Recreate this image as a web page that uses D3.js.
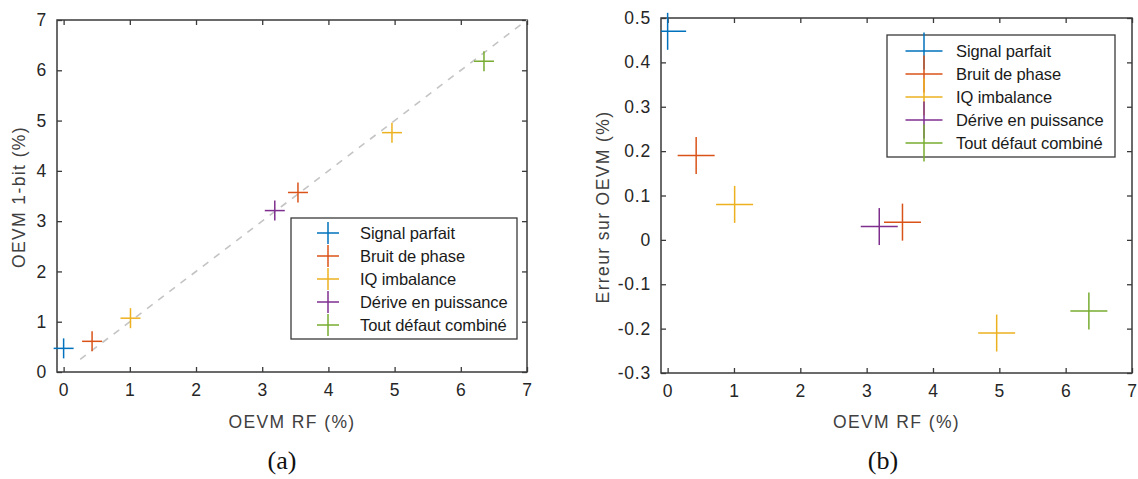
<!DOCTYPE html>
<html><head><meta charset="utf-8">
<script src="https://cdn.jsdelivr.net/npm/d3@7"></script>
<style>
html,body{margin:0;padding:0;background:#fff;}
svg{display:block;}
</style></head>
<body>
<svg id="c" width="1138" height="479"></svg>
<script>
// ---- data ----
const seriesNames = ["Signal parfait", "Bruit de phase", "IQ imbalance", "Dérive en puissance", "Tout défaut combiné"];
const oevmRF   = [[0], [0.43, 3.54], [1.01, 4.96], [3.19], [6.35]];
const oevm1bit = [[0.47], [0.61, 3.57], [1.07, 4.76], [3.21], [6.18]];
const erreur   = [[0.47], [0.19, 0.04], [0.08, -0.21], [0.03], [-0.16]];
const xTicks = [0, 1, 2, 3, 4, 5, 6, 7];
const yTicksA = [0, 1, 2, 3, 4, 5, 6, 7];
const yTicksB = [-0.3, -0.2, -0.1, 0, 0.1, 0.2, 0.3, 0.4, 0.5];
const diagLine = [[0.25, 0.25], [7, 7]];

const colors = ["#0072BD", "#D95319", "#EDB120", "#7E2F8E", "#77AC30"];
const axisColor = "#3a3a3a";
const textColor = "#262626";
const font = "'Liberation Sans', Arial, sans-serif";

const svg = d3.select("#c");

function panel(opts) {
  const g = svg.append("g");
  const x = d3.scaleLinear().domain(opts.xDomain).range([opts.left, opts.right]);
  const y = d3.scaleLinear().domain(opts.yDomain).range([opts.bottom, opts.top]);
  const tl = 5;

  const clipId = "clip" + opts.id;
  svg.append("clipPath").attr("id", clipId).append("rect")
    .attr("x", opts.left).attr("y", 0).attr("width", opts.right - opts.left).attr("height", 479);

  const fmt = opts.fmt;
  const ax = g.append("g").attr("transform", `translate(0,${opts.bottom})`)
    .call(d3.axisBottom(x).tickValues(xTicks).tickSizeInner(-tl).tickSizeOuter(0).tickPadding(12).tickFormat(d3.format("d")));
  const axT = g.append("g").attr("transform", `translate(0,${opts.top})`)
    .call(d3.axisTop(x).tickValues(xTicks).tickSizeInner(-tl).tickSizeOuter(0).tickFormat(""));
  const ay = g.append("g").attr("transform", `translate(${opts.left},0)`)
    .call(d3.axisLeft(y).tickValues(opts.yTicks).tickSizeInner(-tl).tickSizeOuter(0).tickPadding(10).tickFormat(fmt));
  const ayR = g.append("g").attr("transform", `translate(${opts.right},0)`)
    .call(d3.axisRight(y).tickValues(opts.yTicks).tickSizeInner(-tl).tickSizeOuter(0).tickFormat(""));
  [ax, axT, ay, ayR].forEach(a => {
    a.select(".domain").remove();
    a.selectAll(".tick line").attr("stroke", axisColor).attr("stroke-width", 1.3);
    a.selectAll(".tick text").attr("fill", textColor).style("font-family", font)
      .style("font-size", "17.5px").style("letter-spacing", "0.8px");
  });
  ax.selectAll(".tick text").attr("dy", "0.71em");
  g.append("rect").attr("x", opts.left).attr("y", opts.top)
    .attr("width", opts.right - opts.left).attr("height", opts.bottom - opts.top)
    .attr("fill", "none").attr("stroke", axisColor).attr("stroke-width", 1.5);

  if (opts.diag) {
    g.append("path")
      .attr("d", d3.line().x(d => x(d[0])).y(d => y(d[1]))(opts.diag))
      .attr("stroke", "#c4c4c4").attr("stroke-width", 1.6).attr("fill", "none")
      .attr("stroke-dasharray", "7,7");
  }

  const mg = g.append("g").attr("clip-path", opts.clip ? `url(#${clipId})` : null);
  const h = opts.msize / 2;
  seriesNames.forEach((name, i) => {
    const pts = opts.xs[i].map((v, j) => [v, opts.ys[i][j]]);
    pts.forEach(p => {
      const cx = x(p[0]), cy = y(p[1]);
      mg.append("line").attr("x1", cx - h).attr("x2", cx + h).attr("y1", cy).attr("y2", cy)
        .attr("stroke", colors[i]).attr("stroke-width", 1.5);
      mg.append("line").attr("x1", cx).attr("x2", cx).attr("y1", cy - h).attr("y2", cy + h)
        .attr("stroke", colors[i]).attr("stroke-width", 1.5);
    });
  });

  g.append("text").attr("x", (opts.left + opts.right) / 2 + opts.xlabDx).attr("y", 428)
    .attr("text-anchor", "middle").attr("fill", "#404040")
    .style("font-family", font).style("font-size", "17.5px").style("letter-spacing", "1.4px")
    .text("OEVM RF (%)");
  g.append("text").attr("transform", `translate(${opts.ylabX},${opts.ylabY}) rotate(-90)`)
    .attr("text-anchor", "middle").attr("fill", "#404040")
    .style("font-family", font).style("font-size", "17.5px").style("letter-spacing", "1.4px")
    .text(opts.ylabel);

  const L = opts.legend;
  g.append("rect").attr("x", L.x).attr("y", L.y).attr("width", L.w).attr("height", L.h)
    .attr("fill", "#fff").attr("stroke", axisColor).attr("stroke-width", 1.3);
  const lh = L.msize / 2;
  seriesNames.forEach((name, i) => {
    const cy = L.y0 + i * L.dy;
    g.append("line").attr("x1", L.cx - lh).attr("x2", L.cx + lh).attr("y1", cy).attr("y2", cy)
      .attr("stroke", colors[i]).attr("stroke-width", 1.5);
    g.append("line").attr("x1", L.cx).attr("x2", L.cx).attr("y1", cy - lh).attr("y2", cy + lh)
      .attr("stroke", colors[i]).attr("stroke-width", 1.5);
    g.append("text").attr("x", L.tx).attr("y", cy + 6).attr("fill", "#1a1a1a")
      .style("font-family", font).style("font-size", "16.5px").style("letter-spacing", "-0.1px")
      .text(name);
  });

  g.append("text").attr("x", opts.capX).attr("y", 469).attr("text-anchor", "middle")
    .attr("fill", "#111").style("font-family", "'Liberation Serif', 'DejaVu Serif', serif")
    .style("font-size", "26px").text(opts.caption);
}

panel({
  id: "a", left: 57, right: 527, top: 20, bottom: 372,
  xDomain: [-0.1, 7], yDomain: [0, 7], yTicks: yTicksA, fmt: d3.format("d"),
  xs: oevmRF, ys: oevm1bit, msize: 20, clip: false, diag: diagLine,
  ylabel: "OEVM 1-bit (%)", ylabX: 25, ylabY: 197, xlabDx: 0,
  legend: {x: 291, y: 218, w: 226, h: 121, cx: 328, tx: 360, y0: 233, dy: 23, msize: 22},
  caption: "(a)", capX: 282
});

panel({
  id: "b", left: 661, right: 1132, top: 18, bottom: 373,
  xDomain: [-0.1, 7], yDomain: [-0.3, 0.5], yTicks: yTicksB,
  fmt: d => d === 0 ? "0" : d3.format(".1f")(d).replace("−", "-"),
  xs: oevmRF, ys: erreur, msize: 37, clip: true, diag: null,
  ylabel: "Erreur sur OEVM (%)", ylabX: 609, ylabY: 207, xlabDx: 0,
  legend: {x: 887, y: 35, w: 228, h: 122, cx: 924, tx: 956, y0: 51, dy: 23, msize: 37},
  caption: "(b)", capX: 883
});
</script>
</body></html>
